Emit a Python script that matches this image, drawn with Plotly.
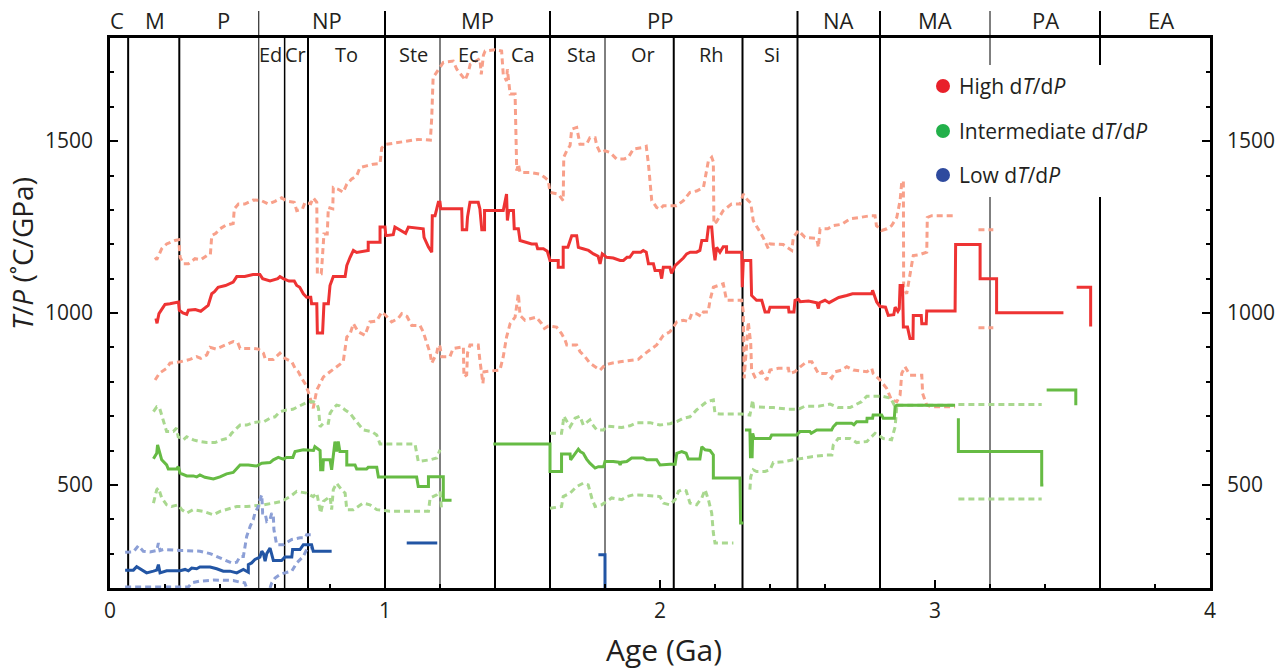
import plotly.graph_objects as go

# ---------------- data (Age in Ga, T/P in °C/GPa) ----------------
N = None
hi_med_x = [0.167,0.171,0.178,0.19,0.2,0.218,0.249,0.252,0.265,0.279,0.285,0.31,0.33,0.357,0.365,0.37,0.38,0.393,0.42,0.448,0.461,0.49,0.52,0.545,0.555,0.582,0.61,0.618,0.63,0.651,0.67,0.679,0.69,0.703,0.715,0.73,0.733,0.752,0.754,0.773,0.778,0.794,0.8,0.812,0.855,0.861,0.873,0.885,0.897,0.939,0.939,0.982,0.982,1.0,1.003,1.03,1.036,1.06,1.075,1.085,1.139,1.142,1.158,1.17,1.172,1.182,1.194,1.2,1.203,1.279,1.281,1.297,1.3,1.309,1.339,1.345,1.352,1.362,1.362,1.43,1.436,1.442,1.445,1.45,1.467,1.47,1.485,1.491,1.533,1.55,1.555,1.576,1.59,1.6,1.63,1.63,1.648,1.648,1.665,1.679,1.697,1.703,1.72,1.74,1.758,1.775,1.782,1.79,1.806,1.83,1.855,1.867,1.88,1.89,1.903,1.93,1.939,1.95,1.958,1.976,1.982,2.0,2.006,2.012,2.036,2.042,2.055,2.073,2.085,2.097,2.11,2.133,2.145,2.152,2.17,2.176,2.188,2.194,2.2,2.206,2.218,2.23,2.242,2.242,2.297,2.299,2.303,2.33,2.333,2.351,2.37,2.382,2.395,2.4,2.467,2.469,2.487,2.491,2.503,2.51,2.54,2.57,2.576,2.58,2.6,2.615,2.63,2.65,2.679,2.7,2.77,2.773,2.788,2.8,2.82,2.83,2.85,2.855,2.865,2.87,2.873,2.882,2.885,2.9,2.909,2.92,2.921,2.95,2.952,2.968,2.97,3.073,3.075,3.164,3.164,3.224,3.224,3.467,N,3.515,3.566,3.566]
hi_med_y = [984,970,998,1015,1025,1027,1032,1008,1000,996,1008,1010,1005,1022,1045,1056,1062,1075,1080,1090,1106,1106,1112,1112,1100,1093,1100,1106,1100,1093,1093,1080,1075,1056,1046,1046,1027,1027,942,942,1027,1027,1080,1106,1106,1138,1162,1182,1176,1182,1206,1206,1250,1250,1225,1228,1250,1240,1232,1250,1245,1220,1192,1177,1283,1283,1322,1322,1303,1303,1242,1242,1279,1322,1322,1303,1242,1242,1298,1298,1320,1346,1269,1298,1298,1245,1245,1211,1201,1201,1187,1187,1180,1153,1153,1133,1133,1191,1191,1225,1225,1191,1187,1182,1172,1165,1143,1172,1162,1160,1153,1153,1162,1162,1177,1177,1182,1177,1143,1143,1124,1124,1100,1133,1133,1115,1138,1150,1160,1172,1177,1177,1182,1211,1211,1250,1250,1191,1153,1191,1177,1193,1193,1177,1177,1075,1153,1153,1051,1037,1037,1003,1003,1017,1017,1003,1003,1037,1040,1033,1035,1030,1013,1030,1037,1030,1037,1045,1051,1056,1056,1066,1032,1019,1017,993,995,1017,1005,1012,1080,1080,959,959,926,926,993,993,969,969,1006,1006,1199,1199,1100,1100,1001,1001,N,1075,1075,961]

hi_up_x = [0.164,0.17,0.188,0.206,0.236,0.25,0.255,0.267,0.285,0.309,0.33,0.352,0.365,0.37,0.385,0.4,0.42,0.448,0.452,0.467,0.49,0.521,0.55,0.576,0.6,0.624,0.645,0.67,0.679,0.7,0.709,0.73,0.739,0.752,0.754,0.768,0.77,0.778,0.79,0.794,0.81,0.812,0.83,0.848,0.861,0.879,0.897,0.909,0.933,0.958,0.982,0.988,1.0,1.04,1.08,1.12,1.165,1.17,1.175,1.188,1.212,1.248,1.261,1.285,1.291,1.303,1.31,1.345,1.35,1.358,1.364,1.4,1.424,1.43,1.442,1.445,1.455,1.473,1.479,1.485,1.491,1.527,1.564,1.58,1.594,1.6,1.63,1.648,1.65,1.661,1.673,1.679,1.697,1.709,1.733,1.745,1.764,1.77,1.782,1.8,1.818,1.842,1.87,1.885,1.903,1.939,1.95,1.958,1.962,1.97,1.988,2.0,2.012,2.06,2.085,2.109,2.133,2.158,2.176,2.188,2.194,2.196,2.205,2.23,2.26,2.291,2.303,2.31,2.321,2.33,2.339,2.364,2.375,2.394,2.4,2.448,2.479,2.485,2.503,2.527,2.57,2.576,2.582,2.61,2.63,2.66,2.691,2.727,2.764,2.782,2.787,2.806,2.825,2.842,2.861,2.873,2.879,2.885,2.886,2.897,2.921,2.945,2.97,2.972,2.988,3.073,N,3.158,3.212]
hi_up_y = [1162,1155,1187,1201,1211,1213,1162,1143,1143,1158,1155,1167,1170,1225,1232,1245,1255,1260,1303,1317,1317,1329,1327,1317,1325,1335,1325,1322,1298,1303,1322,1318,1335,1322,1114,1114,1133,1230,1230,1307,1303,1365,1360,1351,1375,1390,1399,1423,1428,1433,1435,1480,1490,1495,1500,1505,1503,1569,1685,1700,1729,1733,1709,1685,1677,1700,1724,1740,1694,1750,1762,1766,1762,1694,1675,1709,1637,1637,1414,1433,1409,1409,1404,1395,1385,1351,1346,1327,1453,1472,1487,1535,1540,1491,1491,1510,1510,1487,1467,1472,1467,1448,1448,1453,1477,1482,1485,1433,1400,1327,1307,1302,1312,1312,1327,1351,1355,1365,1443,1453,1440,1259,1265,1298,1317,1317,1346,1336,1327,1320,1269,1235,1220,1187,1201,1199,1182,1220,1240,1220,1217,1191,1245,1245,1254,1258,1274,1278,1283,1283,1254,1240,1245,1254,1278,1327,1380,1385,1075,1056,1167,1170,1177,1278,1283,1283,N,1242,1242]

hi_lo_x = [0.164,0.18,0.206,0.218,0.255,0.291,0.315,0.33,0.352,0.364,0.385,0.4,0.424,0.448,0.465,0.473,0.521,0.54,0.558,0.565,0.594,0.618,0.636,0.661,0.673,0.685,0.697,0.709,0.721,0.739,0.752,0.77,0.776,0.8,0.818,0.848,0.861,0.873,0.885,0.903,0.927,0.945,0.97,0.988,1.0,1.024,1.048,1.061,1.08,1.097,1.127,1.139,1.164,1.17,1.188,1.194,1.2,1.206,1.236,1.248,1.285,1.287,1.297,1.3,1.309,1.339,1.345,1.352,1.356,1.36,1.418,1.43,1.442,1.455,1.473,1.485,1.491,1.509,1.533,1.55,1.57,1.58,1.594,1.624,1.642,1.655,1.661,1.697,1.709,1.727,1.745,1.764,1.782,1.8,1.824,1.855,1.891,1.921,1.939,1.964,1.988,2.0,2.012,2.036,2.048,2.061,2.085,2.105,2.115,2.133,2.15,2.158,2.175,2.182,2.194,2.212,2.23,2.242,2.297,2.303,2.306,2.321,2.33,2.333,2.345,2.37,2.388,2.4,2.43,2.467,2.47,2.491,2.503,2.533,2.552,2.576,2.606,2.624,2.636,2.661,2.679,2.703,2.752,2.77,2.775,2.8,2.824,2.842,2.861,2.873,2.879,2.891,2.909,2.952,2.955,2.97,2.988,3.073,N,3.158,3.212]
hi_lo_y = [805,825,839,854,858,865,873,868,878,900,895,900,907,917,913,897,897,895,883,865,865,883,868,858,839,829,810,795,771,723,776,805,814,829,839,858,930,939,969,945,935,974,977,1003,995,974,984,998,990,964,964,945,883,854,883,907,902,873,873,897,902,814,820,883,907,907,863,824,795,829,834,873,930,969,988,1056,993,979,984,988,969,955,962,959,940,921,907,907,888,873,854,844,834,849,854,858,863,865,878,892,907,921,935,945,959,974,979,975,998,998,990,1003,1003,1037,1075,1080,1085,1037,1037,1003,810,974,911,834,814,829,805,834,839,839,824,829,839,858,858,824,824,810,829,834,844,834,829,839,824,805,781,747,742,761,824,844,819,819,766,732,727,727,N,957,957]

int_med_x = [0.158,0.17,0.173,0.178,0.188,0.206,0.212,0.242,0.248,0.255,0.279,0.303,0.315,0.327,0.345,0.376,0.4,0.424,0.448,0.467,0.473,0.503,0.533,0.552,0.582,0.594,0.612,0.63,0.642,0.665,0.673,0.703,0.721,0.74,0.745,0.758,0.764,0.766,0.774,0.776,0.8,0.806,0.812,0.818,0.824,0.83,0.836,0.861,0.861,0.891,0.897,0.933,0.939,0.97,0.976,1.115,1.121,1.158,1.158,1.212,1.212,1.242,N,1.394,1.6,1.6,1.642,1.642,1.673,1.675,1.691,1.703,1.71,1.721,1.733,1.745,1.764,1.776,1.795,1.8,1.83,1.85,1.855,1.86,1.879,1.897,1.939,1.952,1.988,2.0,2.036,2.055,2.061,2.079,2.095,2.103,2.145,2.152,2.164,2.182,2.194,2.194,2.291,2.293,2.303,N,2.309,2.327,2.329,2.335,2.337,2.342,2.4,2.406,2.497,2.509,2.545,2.55,2.57,2.624,2.63,2.642,2.697,2.705,2.715,2.752,2.753,2.773,2.775,2.806,2.812,2.852,2.855,2.861,3.073,N,3.085,3.085,3.388,3.388,3.394,N,3.406,3.512,3.512]
int_med_y = [576,592,616,600,573,558,546,546,553,534,526,526,523,529,522,517,523,532,536,553,558,558,555,563,565,573,580,575,580,580,597,602,602,600,611,604,600,544,544,573,573,544,597,626,597,626,597,597,558,558,546,546,551,551,523,523,495,495,524,524,455,455,N,619,619,539,539,590,590,573,592,604,597,592,575,563,549,553,553,568,568,566,558,566,568,578,578,573,573,558,560,560,592,597,592,575,575,611,602,600,587,520,520,389,389,N,660,660,582,582,650,635,635,645,645,655,655,650,660,660,669,679,679,675,684,684,694,694,703,703,694,694,727,732,732,N,694,597,597,500,500,N,776,776,732]

int_up_x = [0.158,0.17,0.18,0.194,0.206,0.23,0.242,0.248,0.267,0.279,0.303,0.327,0.352,0.382,0.406,0.43,0.442,0.461,0.473,0.497,0.521,0.545,0.56,0.582,0.6,0.618,0.642,0.665,0.685,0.709,0.721,0.739,0.752,0.758,0.764,0.776,0.794,0.8,0.812,0.824,0.835,0.855,0.873,0.891,0.921,0.952,0.97,0.982,1.109,1.121,1.164,1.188,1.2,N,1.6,1.642,1.648,1.65,1.673,1.691,1.709,1.721,1.745,1.75,1.77,1.795,1.806,1.861,1.891,1.915,1.964,2.0,2.036,2.061,2.085,2.109,2.133,2.17,2.194,2.2,2.218,2.297,2.327,2.337,2.34,2.382,2.412,2.467,2.503,2.527,2.576,2.618,2.648,2.691,2.715,2.733,2.752,2.809,2.839,2.855,2.861,3.073,N,3.085,3.388]
int_up_y = [713,727,724,689,655,655,665,640,631,640,631,626,623,623,631,636,650,665,674,674,681,684,684,694,698,713,718,720,727,737,742,742,737,723,669,679,679,708,723,732,730,718,708,689,660,655,645,619,619,568,573,578,602,N,650,650,684,700,669,694,700,674,689,680,660,660,671,667,672,681,681,674,678,684,694,698,718,742,747,708,706,706,703,747,727,727,725,720,720,729,729,735,725,725,735,742,758,758,752,727,732,732,N,734,734]

int_lo_x = [0.158,0.17,0.176,0.188,0.206,0.224,0.248,0.261,0.279,0.303,0.339,0.376,0.4,0.424,0.461,0.497,0.533,0.558,0.594,0.624,0.655,0.679,0.715,0.739,0.752,0.758,0.766,0.776,0.8,0.806,0.812,0.824,0.842,0.855,0.861,0.885,0.921,0.945,0.97,1.018,1.158,1.164,1.188,1.2,1.206,N,1.6,1.642,1.648,1.673,1.697,1.721,1.739,1.752,1.764,1.788,1.806,1.824,1.861,1.879,1.903,1.939,2.0,2.012,2.036,2.055,2.067,2.079,2.095,2.109,2.133,2.152,2.164,2.176,2.188,2.194,2.2,2.267,N,2.327,2.33,2.339,2.351,2.382,2.4,2.412,2.448,2.485,2.515,2.552,2.606,2.625,2.63,2.648,2.691,2.715,2.752,2.77,2.782,2.812,2.842,2.855,2.861,N,3.085,3.388]
int_lo_y = [447,486,491,462,442,437,442,428,418,428,423,413,423,428,437,437,439,442,447,452,466,481,476,466,476,452,418,452,466,428,486,505,486,476,428,428,447,442,428,423,423,462,471,481,428,N,432,437,466,476,495,505,500,462,437,442,452,462,457,466,471,470,466,447,442,457,481,486,483,447,442,462,486,457,418,360,331,331,N,486,524,544,539,539,544,565,567,573,578,582,587,587,616,635,635,623,626,640,650,635,631,669,727,N,459,459]

lo_med_x = [0.055,0.085,0.097,0.115,0.133,0.158,0.17,0.176,0.182,0.206,0.255,0.273,0.285,0.297,0.315,0.327,0.364,0.388,0.412,0.436,0.461,0.485,0.503,0.503,0.515,0.527,0.545,0.552,0.558,0.564,0.57,0.582,0.594,0.624,0.636,0.661,0.664,0.691,0.703,0.733,0.739,0.806,N,1.079,1.19,N,1.776,1.8,1.8]
lo_med_y = [252,252,262,252,244,249,252,268,244,250,250,254,250,258,256,261,261,256,249,249,244,254,246,268,273,283,290,307,300,278,300,316,280,280,290,290,312,312,326,326,307,307,N,331,331,N,297,297,200]

lo_up_x = [0.055,0.085,0.103,0.121,0.145,0.17,0.176,0.182,0.194,0.224,0.255,0.273,0.303,0.327,0.364,0.388,0.418,0.442,0.461,0.473,0.485,0.497,0.51,0.521,0.527,0.539,0.545,0.552,0.555,0.564,0.57,0.582,0.588,0.594,0.596,0.606,0.63,0.642,0.661,0.691,0.71,0.715,0.733]
lo_up_y = [304,305,323,307,305,309,331,309,312,310,309,309,307,307,300,292,283,273,275,292,292,350,380,399,418,437,457,471,418,418,394,400,418,410,370,326,326,331,341,346,346,355,355]

lo_lo_x = [0.055,0.285,0.297,0.327,0.376,0.424,0.448,0.473,0.49,0.497,N,0.582,0.588,0.6,0.618,0.636,0.661,0.679,0.703,0.715,0.733]
lo_lo_y = [203,203,215,220,223,223,222,217,215,200,N,200,215,229,239,244,249,273,292,312,316]

# geological time scale
eon_names = ["C", "M", "P", "NP", "MP", "PP", "NA", "MA", "PA", "EA"]
eon_label_x = [0.024, 0.164, 0.411, 0.789, 1.335, 2.0, 2.65, 3.0, 3.4, 3.82]
period_names = ["Ed", "Cr", "To", "Ste", "Ec", "Ca", "Sta", "Or", "Rh", "Si"]
period_label_x = [0.584, 0.673, 0.86, 1.102, 1.302, 1.5, 1.716, 1.938, 2.188, 2.406]
bounds_age = [0.066, 0.252, 0.541, 0.635, 0.72, 1.0, 1.2, 1.4, 1.6, 1.8, 2.05, 2.3, 2.5, 2.8, 3.2, 3.6]
bounds_w = [2, 2, 1, 1.5, 2, 2, 1, 2, 2, 1, 2, 2, 2, 2, 1, 2]
bounds_top = [False, False, True, False, False, True, False, False, True, False, False, False, True, True, True, True]
legend_gap = [False]*14 + [True, True]

legend_names = ["High d<i>T</i>/d<i>P</i>", "Intermediate d<i>T</i>/d<i>P</i>", "Low d<i>T</i>/d<i>P</i>"]
legend_colors = ["#E8202A", "#22B04A", "#2E4A9E"]

# ---------------- figure ----------------
RED, RED_L = "#EE3333", "#F8A08A"
GRN, GRN_L = "#66BB44", "#A9D88F"
BLU, BLU_L = "#2255A4", "#8C9FD6"
DASH = "6px,4px"
TXT = "#231F20"

fig = go.Figure()

def add(x, y, color, dashed):
    fig.add_trace(go.Scatter(
        x=x, y=y, mode="lines", connectgaps=False, showlegend=False, hoverinfo="skip",
        line=dict(color=color, width=3, dash=DASH if dashed else "solid")))

add(hi_up_x, hi_up_y, RED_L, True)
add(hi_lo_x, hi_lo_y, RED_L, True)
add(int_up_x, int_up_y, GRN_L, True)
add(int_lo_x, int_lo_y, GRN_L, True)
add(lo_up_x, lo_up_y, BLU_L, True)
add(lo_lo_x, lo_lo_y, BLU_L, True)
add(int_med_x, int_med_y, GRN, False)
add(hi_med_x, hi_med_y, RED, False)
add(lo_med_x, lo_med_y, BLU, False)
fig.add_trace(go.Scatter(x=[0], y=[None], yaxis="y2", showlegend=False, hoverinfo="skip", mode="lines"))

# screen pixel -> paper coordinates of the plot area (plot area spans x 110..1210, y 38..588)
def py2paper(py):
    return (588 - py) / 550.0

def px2paper(px):
    return (px - 110) / 1100.0

shapes = []
for a, w, top, gap in zip(bounds_age, bounds_w, bounds_top, legend_gap):
    segs = [(0, py2paper(197)), (py2paper(65), 1)] if gap else [(0, 1)]
    if top:
        segs.append((1, py2paper(11)))
    for y0, y1 in segs:
        shapes.append(dict(type="line", xref="x", yref="paper", x0=a, x1=a, y0=y0, y1=y1,
                           line=dict(color="black", width=w), layer="below"))

annotations = []
for n, x in zip(eon_names, eon_label_x):
    annotations.append(dict(text=n, x=x, y=py2paper(20), xref="x", yref="paper", showarrow=False,
                            font=dict(size=22, color=TXT), xanchor="center", yanchor="middle"))
for n, x in zip(period_names, period_label_x):
    annotations.append(dict(text=n, x=x, y=py2paper(55), xref="x", yref="paper", showarrow=False,
                            font=dict(size=20, color=TXT), xanchor="center", yanchor="middle"))

leg_py = [86, 131, 175]
for name, col, py in zip(legend_names, legend_colors, leg_py):
    yy = py2paper(py)
    shapes.append(dict(type="circle", xref="paper", yref="paper", xsizemode="pixel", ysizemode="pixel",
                       xanchor=px2paper(943), yanchor=yy, x0=-7, x1=7, y0=-7, y1=7,
                       fillcolor=col, line=dict(width=0)))
    annotations.append(dict(text=name, x=px2paper(957), y=yy, xref="paper", yref="paper",
                            showarrow=False, xanchor="left", yanchor="middle",
                            font=dict(size=21, color=TXT)))

annotations.append(dict(text="<i>T</i>/<i>P</i> (˚C/GPa)", textangle=-90, x=px2paper(22),
                        y=py2paper(254), xref="paper", yref="paper", showarrow=False,
                        xanchor="center", yanchor="middle", font=dict(size=28, color=TXT)))
annotations.append(dict(text="Age (Ga)", x=px2paper(664), y=py2paper(649), xref="paper", yref="paper",
                        showarrow=False, xanchor="center", yanchor="middle",
                        font=dict(size=30, color=TXT)))

tickfont = dict(size=21, color=TXT, family="Open Sans")
common = dict(showline=True, linecolor="black", linewidth=2.5, ticks="inside", ticklen=8, tickwidth=2,
              tickcolor="black", tickfont=tickfont, showgrid=False, zeroline=False, automargin=False)
fig.update_layout(
    width=1278, height=669,
    margin=dict(l=110, r=68, t=38, b=81, autoexpand=False),
    plot_bgcolor="white", paper_bgcolor="white",
    font=dict(family="Open Sans", color=TXT),
    showlegend=False,
    shapes=shapes, annotations=annotations,
    xaxis=dict(range=[0, 4], mirror=True, tickvals=[0, 1, 2, 3, 4], ticklabelstandoff=2,
               minor=dict(dtick=0.2, tick0=0, ticks="inside", ticklen=4, tickwidth=2, tickcolor="black"),
               **common),
    yaxis=dict(range=[200, 1800], tickvals=[500, 1000, 1500], ticklabelstandoff=10,
               minor=dict(dtick=100, tick0=0, ticks="inside", ticklen=4, tickwidth=2, tickcolor="black"),
               **common),
    yaxis2=dict(range=[200, 1800], overlaying="y", side="right", tickvals=[500, 1000, 1500],
                ticklabelstandoff=10,
                minor=dict(dtick=100, tick0=0, ticks="inside", ticklen=4, tickwidth=2, tickcolor="black"),
                **common),
)

# remove the default 8 px page margin so the 1278x669 figure fills the window exactly
fig.write_html("out.html", config={"displayModeBar": False},
               post_script="document.body.style.margin='0';document.body.style.overflow='hidden';")
